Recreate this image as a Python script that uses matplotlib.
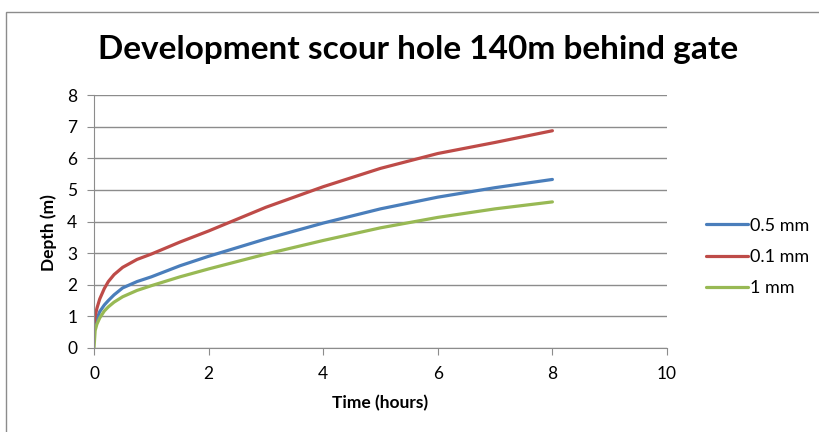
import matplotlib.pyplot as plt
from matplotlib.patches import Rectangle

hours = [0, 0.02, 0.05, 0.1, 0.18, 0.25, 0.35, 0.5, 0.75, 1, 1.5, 2, 3, 4, 5, 6, 7, 8]
depth_05 = [0.62, 0.75, 0.92, 1.15, 1.36, 1.5, 1.68, 1.9, 2.1, 2.25, 2.6, 2.9, 3.45, 3.95, 4.4, 4.77, 5.07, 5.33]
depth_01 = [0.8, 1.0, 1.25, 1.55, 1.88, 2.1, 2.32, 2.55, 2.8, 2.97, 3.35, 3.7, 4.45, 5.1, 5.68, 6.15, 6.5, 6.87]
depth_1 = [0, 0.55, 0.75, 0.95, 1.17, 1.3, 1.45, 1.62, 1.82, 1.97, 2.25, 2.5, 2.97, 3.4, 3.8, 4.13, 4.4, 4.62]

plt.rcParams["font.family"] = ["Lato", "DejaVu Sans"]

fig = plt.figure(figsize=(8.19, 4.32), dpi=100)
ax = fig.add_axes([94 / 819, 1 - 348 / 432, 573 / 819, 253 / 432])

# outer chart border like excel
fig.patches.append(Rectangle((6 / 819, -0.1), 1.2, 1 - 12 / 432 + 0.1,
                             transform=fig.transFigure, fill=False,
                             edgecolor="#8c8c8c", lw=1))

ax.plot(hours, depth_05, color="#4A7EBB", lw=2.3, label="0.5 mm", solid_capstyle="round")
ax.plot(hours, depth_01, color="#BE4B48", lw=2.3, label="0.1 mm", solid_capstyle="round")
ax.plot(hours, depth_1, color="#98B954", lw=2.3, label="1 mm", solid_capstyle="round")

ax.set_xlim(0, 10)
ax.set_ylim(0, 8)
ax.set_xticks(range(0, 11, 2))
ax.set_yticks(range(0, 9))
ax.grid(axis="y", color="#8c8c8c", lw=1)
ax.set_axisbelow(True)
for s in ["top", "right"]:
    ax.spines[s].set_visible(False)
for s in ["left", "bottom"]:
    ax.spines[s].set_color("#8c8c8c")
ax.tick_params(colors="#8c8c8c", labelcolor="black", labelsize=12.5, length=5)
ax.tick_params(axis="y", pad=7)
ax.tick_params(axis="x", pad=8)

ax.set_xlabel("Time (hours)", fontsize=12.5, fontweight="bold", labelpad=9)
ax.set_ylabel("Depth (m)", fontsize=12.5, fontweight="bold")
ax.yaxis.set_label_coords(-0.064, 0.455)
fig.text(0.51, 1 - 50 / 432, "Development scour hole 140m behind gate",
         ha="center", va="center", fontsize=24, fontweight="bold")

ax.legend(loc="center left", bbox_to_anchor=(1.04, 0.36), frameon=False,
          fontsize=13, handlelength=2.3, handletextpad=0.15, labelspacing=0.85)

fig.savefig("out.png", dpi=100)
